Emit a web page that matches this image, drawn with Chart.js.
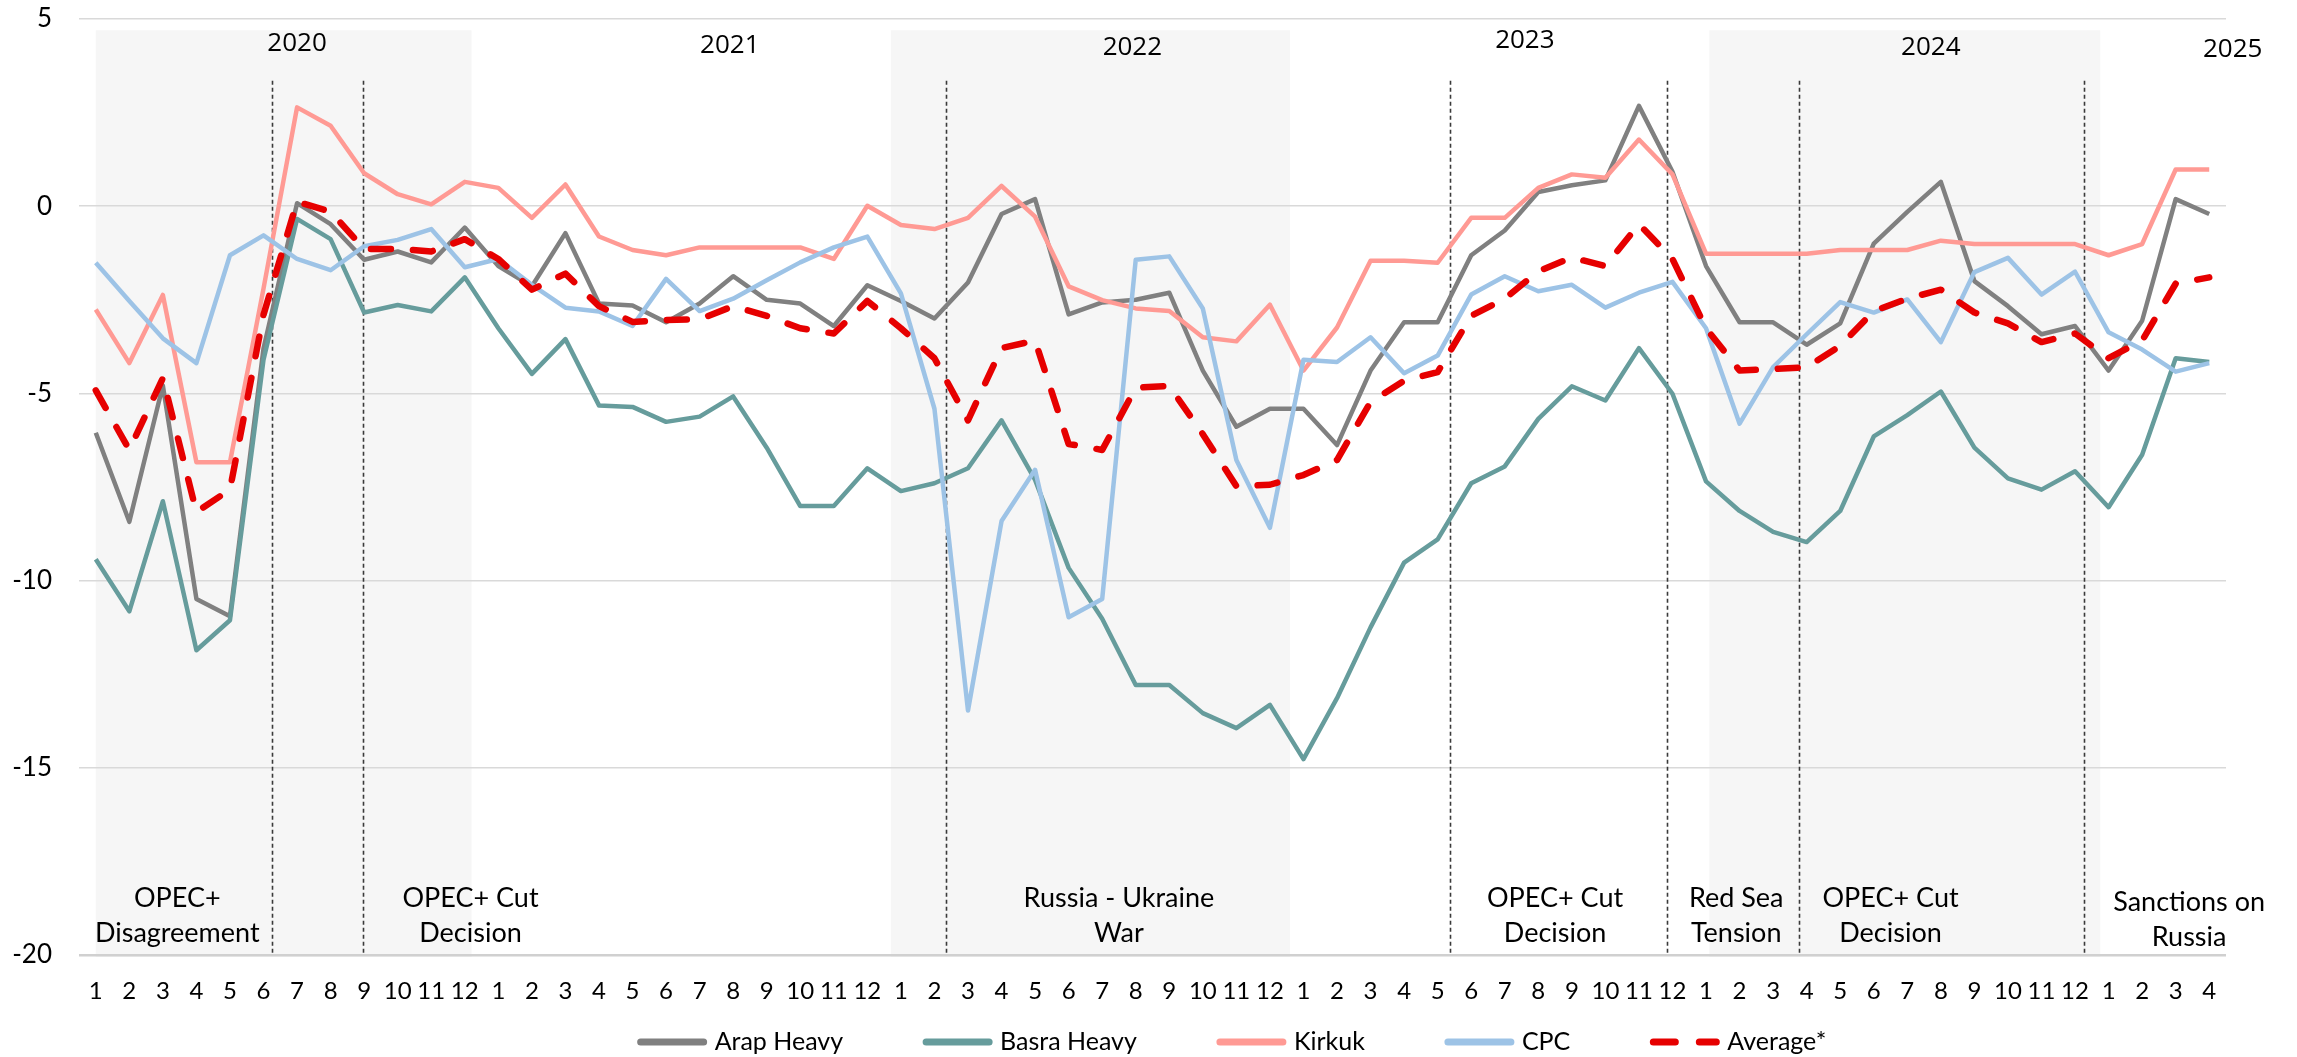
<!DOCTYPE html>
<html>
<head>
<meta charset="utf-8">
<script src="https://cdn.jsdelivr.net/npm/chart.js@4.4.1/dist/chart.umd.min.js"></script>
<style>
  html, body { margin: 0; padding: 0; background: #fff; }
</style>
</head>
<body>
<canvas id="spread-chart" width="2297" height="1057"></canvas>
<script>
// months Jan 2020 .. Apr 2025
const monthLabels = ['1', '2', '3', '4', '5', '6', '7', '8', '9', '10', '11', '12',
    '1', '2', '3', '4', '5', '6', '7', '8', '9', '10', '11', '12',
    '1', '2', '3', '4', '5', '6', '7', '8', '9', '10', '11', '12',
    '1', '2', '3', '4', '5', '6', '7', '8', '9', '10', '11', '12',
    '1', '2', '3', '4', '5', '6', '7', '8', '9', '10', '11', '12',
    '1', '2', '3', '4'];

const arapHeavy = [-6.05, -8.43, -4.79, -10.49, -10.95, -3.8, 0.08, -0.48, -1.43, -1.21, -1.5, -0.57,
    -1.6, -2.14, -0.72, -2.6, -2.65, -3.1, -2.6, -1.87, -2.5, -2.6, -3.2, -2.11,
    -2.53, -3.0, -2.04, -0.21, 0.19, -2.89, -2.57, -2.5, -2.31, -4.39, -5.89, -5.41,
    -5.41, -6.38, -4.39, -3.1, -3.1, -1.31, -0.65, 0.38, 0.56, 0.69, 2.68, 0.92,
    -1.6, -3.1, -3.1, -3.7, -3.13, -1.0, -0.15, 0.65, -2.0, -2.67, -3.42, -3.2,
    -4.39, -3.06, 0.19, -0.21];

const basraHeavy = [-9.43, -10.82, -7.88, -11.86, -11.06, -4.1, -0.34, -0.88, -2.84, -2.64, -2.81, -1.9,
    -3.26, -4.48, -3.55, -5.32, -5.36, -5.76, -5.62, -5.08, -6.45, -8.01, -8.01, -7.0,
    -7.61, -7.4, -7.0, -5.72, -7.31, -9.66, -11.02, -12.79, -12.79, -13.54, -13.94, -13.32,
    -14.77, -13.14, -11.25, -9.52, -8.9, -7.4, -6.95, -5.68, -4.81, -5.19, -3.79, -5.01,
    -7.35, -8.14, -8.7, -8.97, -8.14, -6.15, -5.58, -4.95, -6.45, -7.27, -7.57, -7.08,
    -8.04, -6.64, -4.06, -4.16];

const kirkuk = [-2.76, -4.19, -2.37, -6.84, -6.84, -2.2, 2.64, 2.15, 0.88, 0.32, 0.05, 0.65,
    0.49, -0.31, 0.58, -0.81, -1.17, -1.31, -1.1, -1.1, -1.1, -1.1, -1.41, 0.01,
    -0.5, -0.61, -0.31, 0.54, -0.28, -2.14, -2.51, -2.73, -2.8, -3.5, -3.61, -2.63,
    -4.39, -3.24, -1.46, -1.46, -1.51, -0.31, -0.31, 0.49, 0.85, 0.76, 1.78, 0.85,
    -1.27, -1.27, -1.27, -1.27, -1.17, -1.17, -1.17, -0.92, -1.01, -1.01, -1.01, -1.01,
    -1.31, -1.01, 0.98, 0.98];

const cpc = [-1.51, -2.53, -3.53, -4.19, -1.31, -0.78, -1.41, -1.71, -1.07, -0.9, -0.61, -1.63,
    -1.41, -2.1, -2.71, -2.81, -3.2, -1.94, -2.8, -2.47, -1.98, -1.5, -1.1, -0.81,
    -2.33, -5.41, -13.47, -8.41, -7.04, -10.98, -10.49, -1.43, -1.34, -2.73, -6.78, -8.59,
    -4.1, -4.16, -3.5, -4.46, -3.99, -2.36, -1.87, -2.27, -2.1, -2.71, -2.31, -2.02,
    -3.26, -5.81, -4.3, -3.42, -2.56, -2.84, -2.49, -3.63, -1.76, -1.38, -2.36, -1.75,
    -3.37, -3.83, -4.42, -4.19];

const average = [-4.92, -6.51, -4.59, -8.17, -7.57, -2.9, 0.12, -0.15, -1.14, -1.14, -1.21, -0.88,
    -1.41, -2.23, -1.8, -2.67, -3.09, -3.04, -3.02, -2.67, -2.93, -3.26, -3.4, -2.53,
    -3.26, -4.06, -5.72, -3.79, -3.59, -6.35, -6.51, -4.85, -4.8, -6.09, -7.48, -7.44,
    -7.18, -6.78, -5.23, -4.66, -4.43, -2.93, -2.47, -1.74, -1.37, -1.6, -0.48, -1.41,
    -3.26, -4.39, -4.35, -4.3, -3.73, -2.8, -2.47, -2.23, -2.84, -3.13, -3.63, -3.4,
    -4.06, -3.59, -2.07, -1.9];

const yearLabels = ['2020', '2021', '2022', '2023', '2024', '2025'];
const eventLabels = [['OPEC+', 'Disagreement'], ['OPEC+ Cut', 'Decision'], ['Russia - Ukraine', 'War'],
    ['OPEC+ Cut', 'Decision'], ['Red Sea', 'Tension'], ['OPEC+ Cut', 'Decision'], ['Sanctions on', 'Russia']];

// placement on the month axis (index units) and value axis
const shadeSpans = [[0, 11.2], [23.7, 35.6], [48.1, 59.75]];
const shadeTop = 4.7;
const eventLinesAt = [5.24, 7.98, 25.33, 40.37, 46.84, 50.76, 59.28];
const eventLineTop = 3.35;
const yearPos = [[6.0, 44], [18.9, 46], [30.9, 48], [42.6, 41], [54.7, 48], [63.7, 50]];
const eventLabelX = [2.43, 11.17, 30.5, 43.5, 48.9, 53.5, 62.4];

const textFont = '"Lato", "Liberation Sans", sans-serif';

const overlayPlugin = {
    id: 'overlay',
    beforeDraw(chart) {
        const {ctx, scales: {x, y}} = chart;
        const step = x.getPixelForValue(1) - x.getPixelForValue(0);
        const xAt = v => x.getPixelForValue(0) + step * v;
        ctx.save();
        ctx.fillStyle = '#f6f6f6';
        shadeSpans.forEach(([a, b]) => {
            const top = y.getPixelForValue(shadeTop);
            ctx.fillRect(xAt(a), top, xAt(b) - xAt(a), y.getPixelForValue(-20) - top + 2);
        });
        ctx.restore();
    },
    beforeDatasetsDraw(chart) {
        const {ctx, scales: {x, y}} = chart;
        const step = x.getPixelForValue(1) - x.getPixelForValue(0);
        const xAt = v => x.getPixelForValue(0) + step * v;
        ctx.save();
        ctx.strokeStyle = '#3a3a3a';
        ctx.lineWidth = 1.6;
        ctx.setLineDash([4, 3]);
        eventLinesAt.forEach(v => {
            const px = Math.round(xAt(v)) + 0.5;
            ctx.beginPath();
            ctx.moveTo(px, y.getPixelForValue(eventLineTop));
            ctx.lineTo(px, y.getPixelForValue(-20));
            ctx.stroke();
        });
        ctx.restore();
    },
    afterDraw(chart) {
        const {ctx, scales: {x, y}} = chart;
        const step = x.getPixelForValue(1) - x.getPixelForValue(0);
        const xAt = v => x.getPixelForValue(0) + step * v;
        ctx.save();
        ctx.fillStyle = '#000';
        ctx.textAlign = 'center';
        ctx.textBaseline = 'middle';
        // years
        ctx.font = '26px "Open Sans", sans-serif';
        yearLabels.forEach((t, i) => ctx.fillText(t, xAt(yearPos[i][0]), yearPos[i][1]));
        // events
        ctx.font = '27px ' + textFont;
        eventLabels.forEach((lines, i) => {
            const dy = i === 6 ? 4 : 0;
            ctx.fillText(lines[0], xAt(eventLabelX[i]), 898 + dy);
            ctx.fillText(lines[1], xAt(eventLabelX[i]), 933 + dy);
        });
        // legend
        ctx.font = '25px ' + textFont;
        ctx.textAlign = 'left';
        const sample = 66, gapText = 11, gapItem = 80, ly = 1042;
        const items = chart.data.datasets;
        let total = 0;
        items.forEach((ds, i) => {
            total += sample + gapText + ctx.measureText(ds.label).width + (i < items.length - 1 ? gapItem : 0);
        });
        let lx = 1232 - total / 2;
        items.forEach(ds => {
            ctx.save();
            ctx.strokeStyle = ds.borderColor;
            ctx.lineWidth = 7;
            ctx.lineCap = 'round';
            ctx.setLineDash(ds.borderDash ? [22, 24] : []);
            ctx.beginPath();
            ctx.moveTo(lx + 3, ly);
            ctx.lineTo(lx + sample, ly);
            ctx.stroke();
            ctx.restore();
            ctx.fillText(ds.label, lx + sample + gapText, ly);
            lx += sample + gapText + ctx.measureText(ds.label).width + gapItem;
        });
        ctx.restore();
    }
};

const lineStyle = {
    pointRadius: 0,
    pointHoverRadius: 0,
    tension: 0,
    fill: false,
    borderJoinStyle: 'round'
};

new Chart(document.getElementById('spread-chart'), {
    type: 'line',
    data: {
        labels: monthLabels,
        datasets: [
            {...lineStyle, label: 'Arap Heavy', data: arapHeavy, borderColor: '#808080', borderWidth: 4.5, order: 5},
            {...lineStyle, label: 'Basra Heavy', data: basraHeavy, borderColor: '#669c9c', borderWidth: 4.5, order: 4},
            {...lineStyle, label: 'Kirkuk', data: kirkuk, borderColor: '#ff9a94', borderWidth: 4.5, order: 3},
            {...lineStyle, label: 'CPC', data: cpc, borderColor: '#9dc3e6', borderWidth: 4.5, order: 2},
            {...lineStyle, label: 'Average*', data: average, borderColor: '#e60000', borderWidth: 6.5,
                borderDash: [20, 22], borderCapStyle: 'round', order: 1}
        ]
    },
    options: {
        responsive: false,
        animation: false,
        events: [],
        layout: {
            padding: {top: 19, right: 71, bottom: 0, left: 0}
        },
        scales: {
            x: {
                type: 'category',
                offset: true,
                grid: {display: false, drawTicks: false},
                border: {display: false},
                ticks: {
                    autoSkip: false,
                    maxRotation: 0,
                    minRotation: 0,
                    padding: 22,
                    color: '#000',
                    font: {family: textFont, size: 24}
                },
                afterFit: s => { s.height = 102; }
            },
            y: {
                min: -20,
                max: 5,
                grid: {
                    color: ctx => ctx.tick && ctx.tick.value === -20 ? '#d0d0d0' : '#d9d9d9',
                    lineWidth: ctx => ctx.tick && ctx.tick.value === -20 ? 2.5 : 1.5,
                    drawTicks: false
                },
                border: {display: false},
                ticks: {
                    stepSize: 5,
                    padding: 27,
                    color: '#000',
                    font: {family: textFont, size: 26}
                },
                afterFit: s => {
                    s.width = 79;
                    s.paddingTop = 14;
                    s.paddingBottom = 14;
                }
            }
        },
        plugins: {
            legend: {display: false},
            tooltip: {enabled: false}
        }
    },
    plugins: [overlayPlugin]
});
</script>
</body>
</html>
